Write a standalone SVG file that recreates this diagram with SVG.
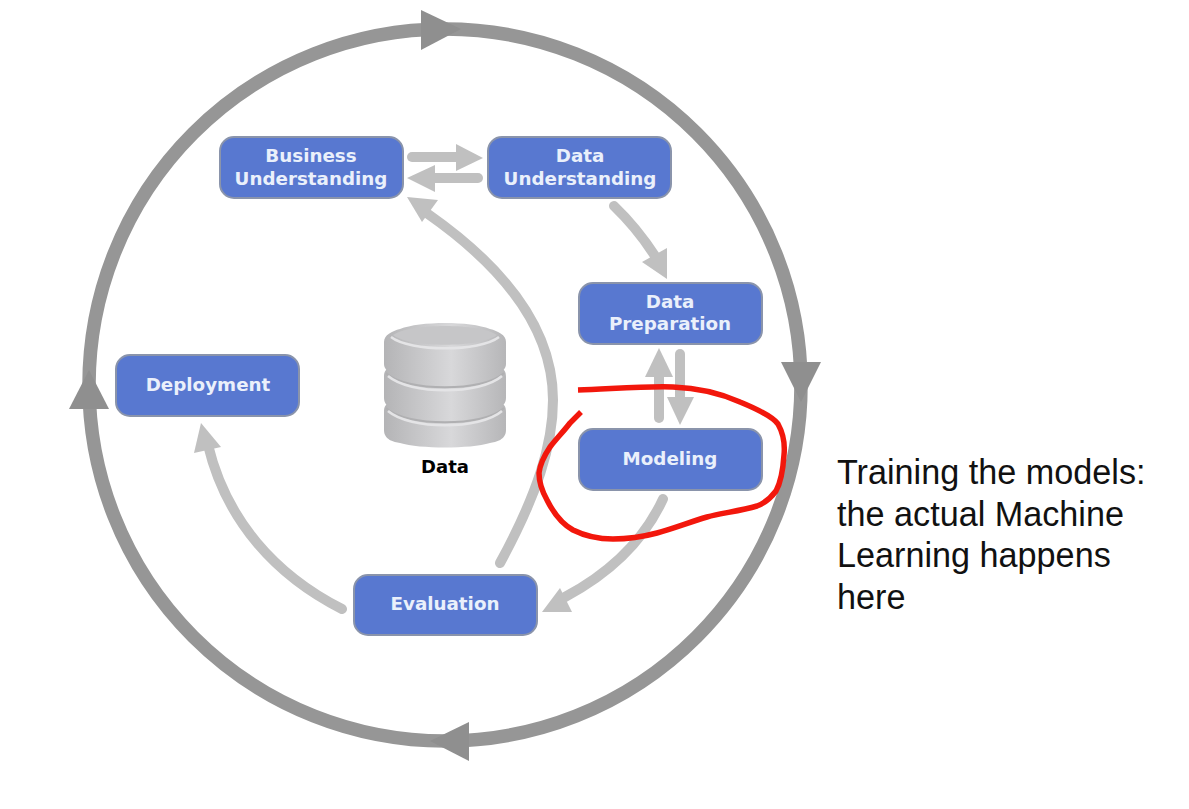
<svg xmlns="http://www.w3.org/2000/svg" width="1189" height="809" viewBox="0 0 1189 809">
<style>
.n{fill:#5878d0;stroke:#8a94ab;stroke-width:2}
.t{font-family:"DejaVu Sans",Verdana,sans-serif;font-weight:700;font-size:18.3px;fill:#eaf0fb;text-anchor:middle}
.c{fill:none;stroke:#c0c0c0;stroke-width:10;stroke-linecap:round}
.h{fill:#c0c0c0}
.o{fill:none;stroke:#969696;stroke-width:13.5}
.oh{fill:#8f8f8f}
.cap{font-family:"Liberation Sans",Arial,sans-serif;font-size:34.2px;fill:#111}
.tier{fill:url(#g)}
.hi{fill:none;stroke:#e4e4e6;stroke-width:2.5}
.lo{fill:none;stroke:#b0b0b2;stroke-width:2}
</style>
<defs>
<linearGradient id="g" x1="0" x2="1" y1="0" y2="0"><stop offset="0" stop-color="#b4b4b6"/><stop offset=".55" stop-color="#d8d8da"/><stop offset="1" stop-color="#b6b6b8"/></linearGradient>
</defs>
<rect width="1189" height="809" fill="#fff"/>
<g id="connectors">
<circle class="o" cx="445" cy="385" r="356"/>
<polygon class="oh" points="421,10 461,29 421,50"/>
<polygon class="oh" points="781,362 821,362 801,402"/>
<polygon class="oh" points="469,722 469,761 430,741"/>
<polygon class="oh" points="69,409 109,409 89,370"/>
<path class="c" d="M412 157H462"/><polygon class="h" points="456,144 483,158 456,171"/>
<path class="c" d="M478 178H430"/><polygon class="h" points="435,165 435,192 407,178"/>
<path class="c" d="M614 206Q637 228 655 256"/><polygon class="h" points="642,262 667,248 667,279"/>
<path class="c" d="M659 418V370"/><polygon class="h" points="645,377 673,377 659,348"/>
<path class="c" d="M680 354V402"/><polygon class="h" points="667,397 694,397 680,425"/>
<path class="c" d="M500 563C537 495 553 445 553 400C553 330 505 268 428 214"/><polygon class="h" points="407,197 438,200 422,222"/>
<path class="c" d="M663 499C644 540 612 572 565 597"/><polygon class="h" points="542,612 560,588 572,612"/>
<path class="c" d="M342 609C275 575 226 520 208 445"/><polygon class="h" points="201,423 194,453 221,447"/>
</g>
<g id="business-understanding"><rect class="n" x="220" y="137" width="183" height="61" rx="14"/><text class="t" x="311" y="162">Business</text><text class="t" x="311" y="185">Understanding</text></g>
<g id="data-understanding"><rect class="n" x="488" y="137" width="183" height="61" rx="14"/><text class="t" x="580" y="162">Data</text><text class="t" x="580" y="185">Understanding</text></g>
<g id="data-preparation"><rect class="n" x="579" y="283" width="183" height="61" rx="14"/><text class="t" x="670" y="308">Data</text><text class="t" x="670" y="330">Preparation</text></g>
<g id="modeling"><rect class="n" x="579" y="429" width="183" height="61" rx="14"/><text class="t" x="670" y="465">Modeling</text></g>
<g id="evaluation"><rect class="n" x="354" y="575" width="183" height="60" rx="14"/><text class="t" x="445" y="610">Evaluation</text></g>
<g id="deployment"><rect class="n" x="116" y="355" width="183" height="61" rx="14"/><text class="t" x="208" y="391">Deployment</text></g>
<g id="data">
<path class="tier" d="M384 412C384 406 386 405 388 403H502C504 405 506 406 506 412V430C506 440 496 442 490 443C470 449 420 449 400 443C394 442 384 440 384 430Z"/>
<path class="tier" d="M384 377C384 371 386 370 388 368H502C504 370 506 371 506 377V398C506 404 502 406 500 408H390C388 406 384 404 384 398Z"/>
<path class="tier" d="M384 342C384 335 392 331 400 329C420 321 470 321 490 329C498 331 506 335 506 342V364C506 369 502 371 500 373H390C388 371 384 369 384 364Z"/>
<path d="M393 335C410 323 480 323 497 335C480 348 410 348 393 335Z" fill="#c6c6c8"/>
<path class="hi" d="M391 337C410 352 480 352 499 337"/>
<path class="lo" d="M386 373C405 392 485 392 504 373M386 408C405 427 485 427 504 408"/>
<path class="hi" d="M388 376C410 395 480 395 502 376M388 411C410 430 480 430 502 411"/>
<text x="445" y="473" style="font-family:'DejaVu Sans',Verdana,sans-serif;font-weight:700;font-size:18px;text-anchor:middle;fill:#000">Data</text>
</g>
<path id="highlight" d="M578 390C610 389 645 386 673 387C700 388 722 394 740 402C757 409 772 416 778 424C783 433 785 445 784 455C783 470 781 482 776 491C770 499 765 503 757 506C740 511 722 513 707 517C690 522 672 529 657 533C642 537 628 539 613 539C598 539 585 536 573 530C562 524 553 512 547 500C542 491 539 482 539 473C540 464 544 456 550 447C556 439 564 431 570 423L581 412" fill="none" stroke="#f2170c" stroke-width="5.5"/>
<g id="caption">
<text class="cap" x="837" y="484">Training the models:</text>
<text class="cap" x="837" y="526">the actual Machine</text>
<text class="cap" x="837" y="567">Learning happens</text>
<text class="cap" x="837" y="609">here</text>
</g>
</svg>
